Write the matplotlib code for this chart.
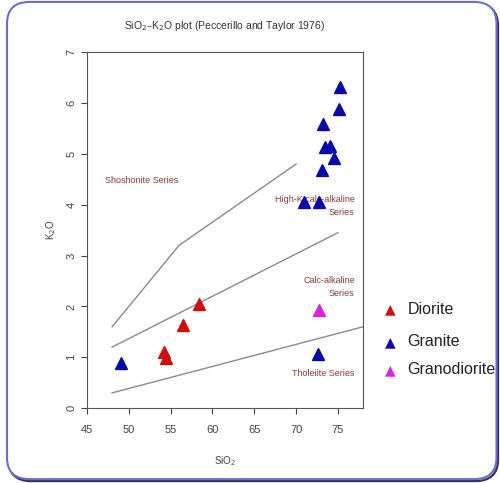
import numpy as np
import matplotlib.pyplot as plt
from matplotlib.patches import FancyBboxPatch

plt.rcParams['font.family'] = ['Liberation Sans', 'DejaVu Sans']

# boundary lines (Peccerillo and Taylor 1976)
shosh_x = [48, 56, 70]
shosh_y = [1.6, 3.2, 4.8]
hik_x = [48, 75]
hik_y = [1.2, 3.45]
thol_x = [48, 78]
thol_y = [0.3, 1.6]

# samples
diorite_sio2 = [58.4, 56.5, 54.2, 54.5]
diorite_k2o = [2.05, 1.63, 1.1, 0.99]
granite_sio2 = [49.1, 72.6, 70.9, 72.7, 73.1, 73.4, 74.0, 74.5, 73.2, 75.1, 75.3]
granite_k2o = [0.88, 1.07, 4.05, 4.05, 4.68, 5.13, 5.15, 4.91, 5.58, 5.89, 6.32]
grano_sio2 = [72.7]
grano_k2o = [1.93]

series_names = ["Diorite", "Granite", "Granodiorite"]
series_colors = ["#cc1010", "#0a0aa8", "#dd22dd"]

fig = plt.figure(figsize=(5, 4.83), dpi=100)
fig.patch.set_facecolor("white")

# rounded frame around the whole chart, dark shadow bottom/right
shadow = FancyBboxPatch((0.017, 0.004), 0.979, 0.988,
                        boxstyle="round,pad=0,rounding_size=0.045",
                        transform=fig.transFigure, facecolor="none",
                        edgecolor="#33335a", linewidth=1.6, zorder=-2)
frame = FancyBboxPatch((0.014, 0.008), 0.979, 0.988,
                       boxstyle="round,pad=0,rounding_size=0.045",
                       transform=fig.transFigure, facecolor="white",
                       edgecolor="#6a6ad8", linewidth=1.5, zorder=-1)
fig.patches.append(shadow)
fig.patches.append(frame)

ax = fig.add_axes([0.174, 0.155, 0.552, 0.737])
ax.set_xlim(45, 78)
ax.set_ylim(0, 7)

ax.plot(shosh_x, shosh_y, color="#8a8a8a", lw=1)
ax.plot(hik_x, hik_y, color="#8a8a8a", lw=1)
ax.plot(thol_x, thol_y, color="#8a8a8a", lw=1)

txt_col = "#8b3a3a"
ax.text(47.1, 4.48, "Shoshonite Series", color=txt_col, fontsize=6.5, va="center")
ax.text(77.0, 3.97, "High-K calc-alkaline\nSeries", color=txt_col, fontsize=6.5,
        ha="right", va="center", multialignment="right", linespacing=1.6)
ax.text(77.0, 2.38, "Calc-alkaline\nSeries", color=txt_col, fontsize=6.5,
        ha="right", va="center", multialignment="right", linespacing=1.6)
ax.text(77.0, 0.69, "Tholeiite Series", color=txt_col, fontsize=6.5,
        ha="right", va="center")

groups = [(diorite_sio2, diorite_k2o), (granite_sio2, granite_k2o), (grano_sio2, grano_k2o)]
for (gx, gy), c in zip(groups, series_colors):
    ax.plot(gx, gy, linestyle="none", marker="^", ms=9, color=c,
            markeredgecolor=c, zorder=3)

ax.set_xticks(np.arange(45, 80, 5))
ax.set_yticks(np.arange(0, 8, 1))
ax.tick_params(axis="both", labelsize=8, colors="#444444", length=4, width=0.8)
ax.tick_params(axis="x", pad=8)
for lab in ax.get_yticklabels():
    lab.set_rotation(90)
    lab.set_va("center")
for s in ax.spines.values():
    s.set_color("#555555")
    s.set_linewidth(0.8)

ax.set_xlabel("SiO$_2$", fontsize=7, color="#444444", labelpad=14)
ax.set_ylabel("K$_2$O", fontsize=7, color="#444444", labelpad=6)
fig.text(0.45, 0.946, "SiO$_2$–K$_2$O plot (Peccerillo and Taylor 1976)",
         fontsize=7.5, color="#333333", ha="center", va="center")

# legend drawn at the right side
leg_y = [0.36, 0.292, 0.234]
for name, c, yy in zip(series_names, series_colors, leg_y):
    fig.text(0.78, yy, "\u25B2", color=c, fontsize=10, ha="center", va="center",
             family="DejaVu Sans")
    fig.text(0.815, yy, name, color="#222222", fontsize=11.5, ha="left", va="center")

fig.savefig("out.png", dpi=100)
